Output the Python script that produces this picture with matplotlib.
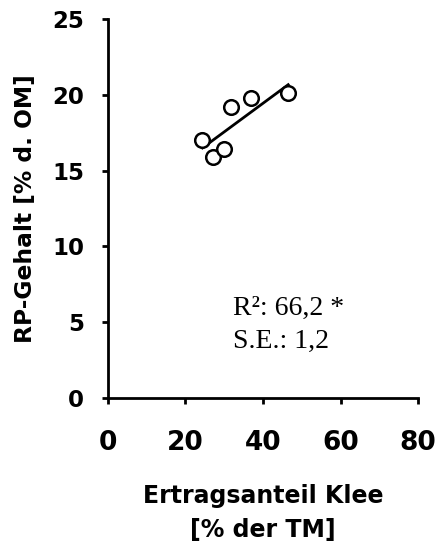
import numpy as np
import matplotlib
matplotlib.use("Agg")
import matplotlib.pyplot as plt

# clover yield share [% of DM] vs crude protein [% of OM]
klee = [24.4, 27.0, 29.9, 31.7, 36.8, 46.5]
rp = [17.0, 15.9, 16.4, 19.2, 19.8, 20.1]
xticks = [0, 20, 40, 60, 80]
yticks = [0, 5, 10, 15, 20, 25]
stats = ["R²: 66,2 *", "S.E.: 1,2"]

fig = plt.figure(figsize=(4.42, 5.43), dpi=100)
ax = fig.add_axes([0.244, 0.267, 0.702, 0.698])

# regression line over the observed x range
b, a = np.polyfit(klee, rp, 1)
xl = np.array([min(klee), max(klee)])
ax.plot(xl, a + b * xl, "-", color="black", lw=2)
ax.plot(klee, rp, "o", ms=10.5, mfc="white", mec="black", mew=1.8)

ax.set_xlim(0, 80)
ax.set_ylim(0, 25)
ax.set_xticks(xticks)
ax.set_yticks(yticks)
for s in ("top", "right"):
    ax.spines[s].set_visible(False)
for s in ("left", "bottom"):
    ax.spines[s].set_linewidth(2)
ax.tick_params(axis="y", length=4, width=2, pad=13)
ax.tick_params(axis="x", length=4, width=2, pad=19)
for lb in ax.get_yticklabels():
    lb.set_fontfamily("DejaVu Sans")
    lb.set_fontweight("bold")
    lb.set_fontsize(16.5)
for lb in ax.get_xticklabels():
    lb.set_fontfamily("DejaVu Sans")
    lb.set_fontweight("bold")
    lb.set_fontsize(19)

ax.set_ylabel("RP-Gehalt [% d. OM]", fontfamily="DejaVu Sans",
              fontweight="bold", fontsize=16.8, labelpad=11)
ax.set_xlabel("Ertragsanteil Klee\n[% der TM]", fontfamily="DejaVu Sans",
              fontweight="bold", fontsize=17, labelpad=20, linespacing=1.55)

ax.text(0.403, 0.219, stats[0], transform=ax.transAxes, va="baseline",
        fontfamily="Liberation Serif", fontsize=20)
ax.text(0.403, 0.132, stats[1], transform=ax.transAxes, va="baseline",
        fontfamily="Liberation Serif", fontsize=20)

fig.savefig("out.png", dpi=100)
